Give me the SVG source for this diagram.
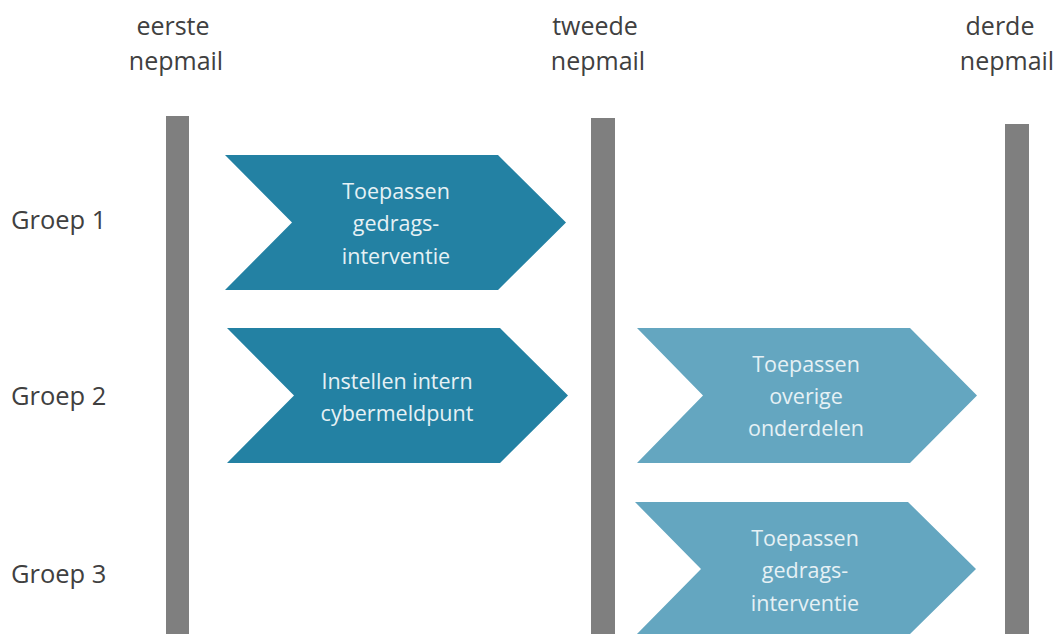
<svg xmlns="http://www.w3.org/2000/svg" width="1059" height="634" viewBox="0 0 1059 634">
<style>
.bar{fill:#7F7F7F}
.dark{fill:#2381A3}
.light{fill:#64A6C0}
.lbl{font-family:"Open Sans","Liberation Sans",sans-serif;font-size:25px;fill:#404040}
.grp{font-size:25.5px}
.ct{font-family:"Open Sans","Liberation Sans",sans-serif;font-size:21.5px;fill:#E6F1F5;text-anchor:middle}
.mid{text-anchor:middle}
</style>
<rect width="1059" height="634" fill="#FFFFFF"/>
<g id="bars">
<rect id="bar1" class="bar" x="166" y="116" width="23" height="518"/>
<rect id="bar2" class="bar" x="591" y="118" width="24" height="516"/>
<rect id="bar3" class="bar" x="1005" y="124" width="24" height="510"/>
</g>
<g id="headers">
<text class="lbl mid" x="173" y="35">eerste</text>
<text class="lbl mid" x="176" y="70">nepmail</text>
<text class="lbl mid" x="595" y="35">tweede</text>
<text class="lbl mid" x="598" y="70">nepmail</text>
<text class="lbl mid" x="1000" y="35">derde</text>
<text class="lbl mid" x="1007" y="70">nepmail</text>
</g>
<g id="groups">
<text class="lbl grp" x="11" y="229">Groep 1</text>
<text class="lbl grp" x="11" y="405">Groep 2</text>
<text class="lbl grp" x="11" y="583">Groep 3</text>
</g>
<g id="node1">
<polygon class="dark" points="225,155 498,155 566,222.5 498,290 225,290 292,222.5"/>
<text class="ct" x="396" y="199">Toepassen</text>
<text class="ct" x="396" y="231">gedrags-</text>
<text class="ct" x="396" y="264">interventie</text>
</g>
<g id="node2">
<polygon class="dark" points="227,328 500,328 568,395.5 500,463 227,463 294,395.5"/>
<text class="ct" x="397" y="389">Instellen intern</text>
<text class="ct" x="397" y="421">cybermeldpunt</text>
</g>
<g id="node3">
<polygon class="light" points="637,328 910,328 977,395.5 910,463 637,463 703,395.5"/>
<text class="ct" x="806" y="372">Toepassen</text>
<text class="ct" x="806" y="404">overige</text>
<text class="ct" x="806" y="436">onderdelen</text>
</g>
<g id="node4">
<polygon class="light" points="635,502 908,502 976,569 908,636 635,636 701,569"/>
<text class="ct" x="805" y="546">Toepassen</text>
<text class="ct" x="805" y="578">gedrags-</text>
<text class="ct" x="805" y="611">interventie</text>
</g>
<g id="connectors"/>
</svg>
